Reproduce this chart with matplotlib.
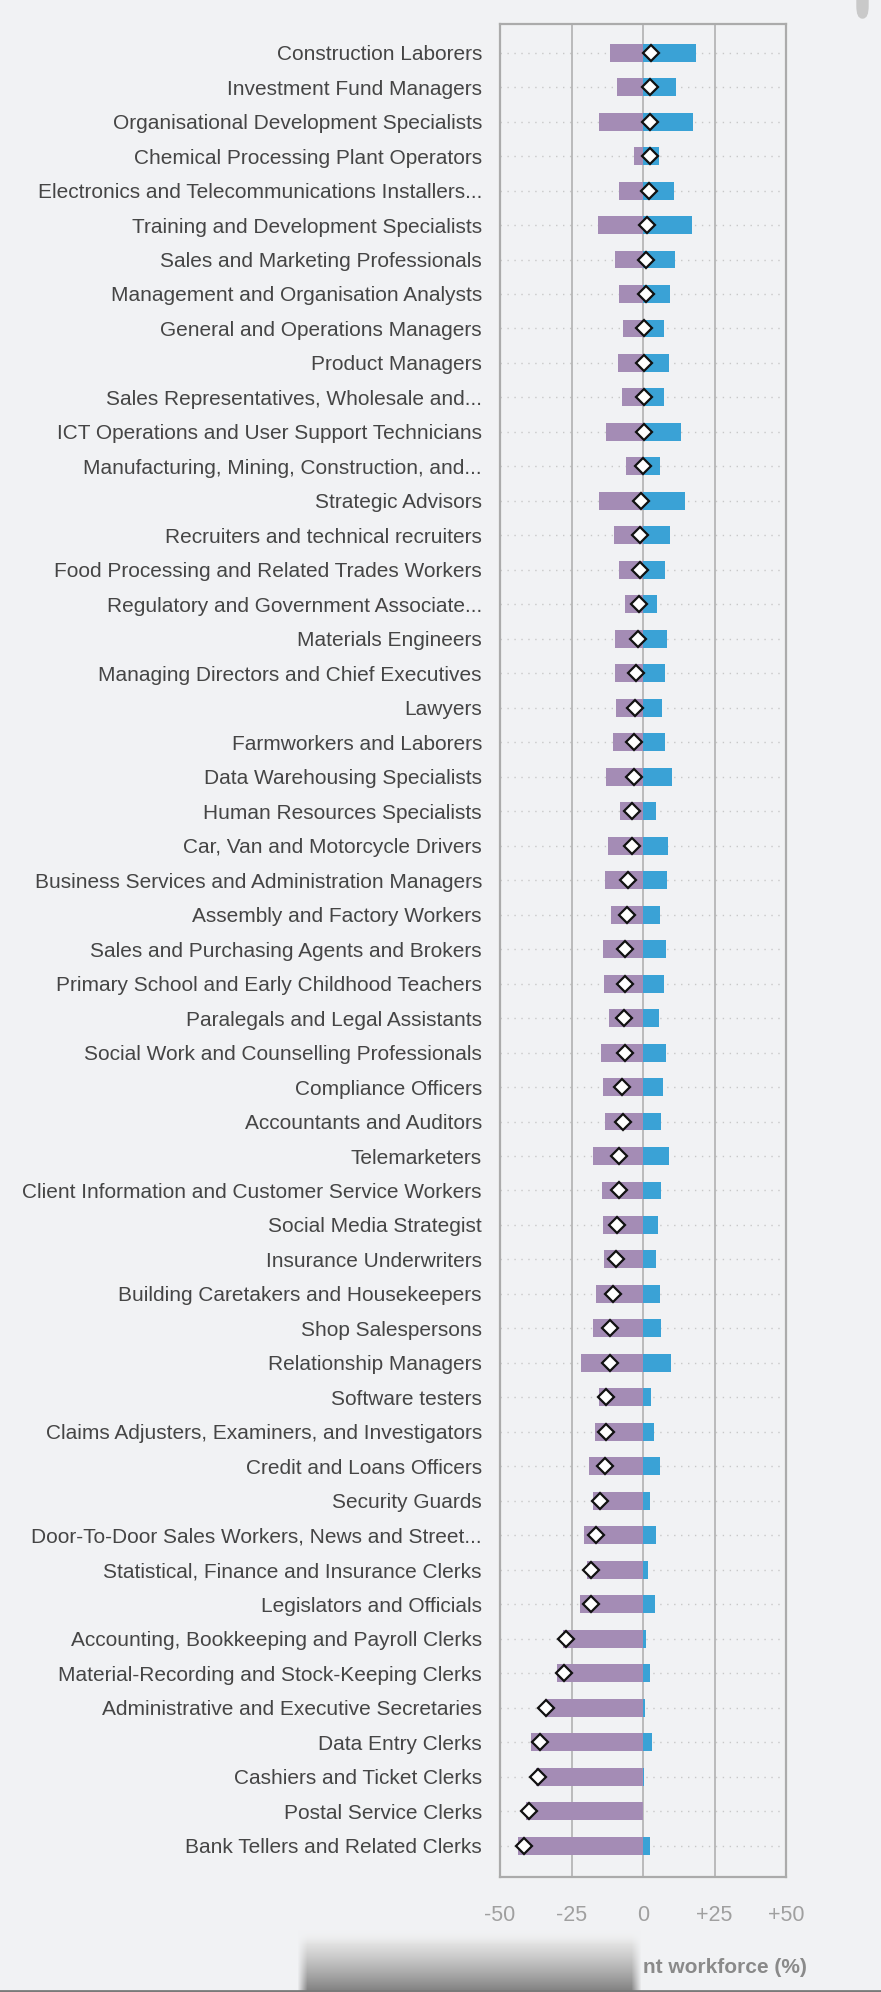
#!/usr/bin/env python3
"""Workforce change by occupation: losses, gains and net change."""
import numpy as np
import matplotlib
matplotlib.use('Agg')
import matplotlib.pyplot as plt
from matplotlib.patches import FancyBboxPatch
from matplotlib.lines import Line2D

occupations = [
    'Construction Laborers', 'Investment Fund Managers',
    'Organisational Development Specialists', 'Chemical Processing Plant Operators',
    'Electronics and Telecommunications Installers...',
    'Training and Development Specialists', 'Sales and Marketing Professionals',
    'Management and Organisation Analysts', 'General and Operations Managers',
    'Product Managers', 'Sales Representatives, Wholesale and...',
    'ICT Operations and User Support Technicians',
    'Manufacturing, Mining, Construction, and...', 'Strategic Advisors',
    'Recruiters and technical recruiters', 'Food Processing and Related Trades Workers',
    'Regulatory and Government Associate...', 'Materials Engineers',
    'Managing Directors and Chief Executives', 'Lawyers', 'Farmworkers and Laborers',
    'Data Warehousing Specialists', 'Human Resources Specialists',
    'Car, Van and Motorcycle Drivers', 'Business Services and Administration Managers',
    'Assembly and Factory Workers', 'Sales and Purchasing Agents and Brokers',
    'Primary School and Early Childhood Teachers', 'Paralegals and Legal Assistants',
    'Social Work and Counselling Professionals', 'Compliance Officers',
    'Accountants and Auditors', 'Telemarketers',
    'Client Information and Customer Service Workers', 'Social Media Strategist',
    'Insurance Underwriters', 'Building Caretakers and Housekeepers',
    'Shop Salespersons', 'Relationship Managers', 'Software testers',
    'Claims Adjusters, Examiners, and Investigators', 'Credit and Loans Officers',
    'Security Guards', 'Door-To-Door Sales Workers, News and Street...',
    'Statistical, Finance and Insurance Clerks', 'Legislators and Officials',
    'Accounting, Bookkeeping and Payroll Clerks',
    'Material-Recording and Stock-Keeping Clerks',
    'Administrative and Executive Secretaries', 'Data Entry Clerks',
    'Cashiers and Ticket Clerks', 'Postal Service Clerks',
    'Bank Tellers and Related Clerks',
]

# share of workforce displaced (negative) and newly created (positive), %
displaced = [
    -11.7, -9.2, -15.5, -3.3, -8.5, -15.9, -9.9, -8.5, -7.1, -8.9,
    -7.5, -13.1, -6.1, -15.5, -10.3, -8.5, -6.4, -9.9, -9.9, -9.6,
    -10.6, -13.1, -8.2, -12.4, -13.4, -11.3, -14.1, -13.8, -12.0, -14.8,
    -14.1, -13.4, -17.6, -14.5, -14.1, -13.8, -16.6, -17.6, -21.8, -15.5,
    -16.9, -19.0, -17.6, -20.7, -19.7, -22.1, -28.1, -30.2, -34.4, -39.3,
    -37.5, -40.8, -43.8,
]
created = [
    18.4, 11.4, 17.6, 5.5, 10.7, 17.0, 11.1, 9.3, 7.2, 9.0,
    7.2, 13.2, 5.8, 14.6, 9.3, 7.6, 4.8, 8.3, 7.6, 6.5,
    7.6, 10.0, 4.4, 8.6, 8.3, 5.8, 7.9, 7.2, 5.5, 7.9,
    6.9, 6.2, 9.0, 6.2, 5.1, 4.4, 5.8, 6.2, 9.7, 2.7,
    3.7, 5.8, 2.3, 4.4, 1.6, 4.1, 0.9, 2.3, 0.6, 3.0,
    0.2, 0.0, 2.3,
]
net_change = [
    2.8, 2.3, 2.3, 2.3, 2.1, 1.5, 1.0, 0.9, 0.2, 0.2,
    0.2, 0.2, -0.1, -0.8, -1.2, -1.2, -1.5, -1.9, -2.3, -2.9,
    -3.0, -3.1, -3.7, -4.0, -5.2, -5.7, -6.2, -6.4, -6.5, -6.4,
    -7.2, -7.1, -8.4, -8.4, -9.1, -9.6, -10.5, -11.7, -11.7, -12.8,
    -12.8, -13.2, -15.2, -16.3, -18.1, -18.1, -27.0, -27.7, -34.0, -36.1,
    -36.8, -39.9, -41.5,
]
tick_values = [-50, -25, 0, 25, 50]
tick_labels = ['-50', '-25', '0', '+25', '+50']

BG = '#f1f2f4'
PURPLE = '#a48cb5'
BLUE = '#3aa2d6'
GRID = '#ababab'

fig = plt.figure(figsize=(8.81, 19.92), dpi=100, facecolor=BG)
ax = fig.add_axes([500 / 881, 115 / 1992, 286 / 881, 1853 / 1992], facecolor=BG)

y = np.arange(len(occupations))
for yi in y:
    ax.axhline(yi, color='#c8c8c8', lw=1.0, ls=(0, (1, 4)), zorder=1)
for v in (-25, 0, 25):
    ax.axvline(v, color=GRID, lw=1.1, zorder=1.5)

ax.barh(y, displaced, height=0.52, color=PURPLE, zorder=2)
ax.barh(y, created, height=0.52, color=BLUE, zorder=2)
ax.plot(net_change, y, ls='none', marker='D', ms=8, mfc='white', mec='#111111',
        mew=1.6, zorder=3)

ax.set_xlim(-50, 50)
ax.set_ylim(52.91, -0.83)
ax.set_yticks(y, occupations, fontsize=15, color='#454545',
              family='Liberation Sans')
ax.tick_params(axis='y', length=0, pad=13)
ax.set_xticks(tick_values, tick_labels, fontsize=15.5, color='#a0a0a0',
              family='Liberation Sans')
ax.tick_params(axis='x', length=0, pad=20)
for s in ax.spines.values():
    s.set_color(GRID)
    s.set_linewidth(1.6)

fig.text(643 / 881, 25 / 1992, 'nt workforce (%)', ha='left', va='center',
         fontsize=15, fontweight='bold', color='#8a8a8a', family='Liberation Sans')

# grey gradient overlay at the bottom
gax = fig.add_axes([297 / 881, 0, 345 / 881, 62 / 1992])
gax.axis('off')
h, w = 62, 345
rows = np.linspace(0, 1, h)[:, None]
shade = 0.95 - 0.45 * rows ** 1.3
img = np.ones((h, w, 4))
img[..., 0] = img[..., 1] = img[..., 2] = shade
cols = np.arange(w)
edge = np.clip(np.minimum(cols, w - 1 - cols) / 10.0, 0, 1)[None, :]
img[..., 3] = np.clip(rows * 4, 0, 1) * edge
gax.imshow(img, aspect='auto', extent=(0, 1, 0, 1))
gax.set_xlim(0, 1)
gax.set_ylim(0, 1)

fig.add_artist(Line2D([0, 1], [1.5 / 1992, 1.5 / 1992], color='#7a7a7a', lw=2,
                      transform=fig.transFigure))
fig.patches.append(FancyBboxPatch((857 / 881, 1974 / 1992), 11 / 881, 30 / 1992,
                                  boxstyle='round,pad=0,rounding_size=0.006',
                                  color='#c9c9c9', transform=fig.transFigure,
                                  figure=fig))

fig.savefig('out.png', dpi=100, facecolor=BG)
